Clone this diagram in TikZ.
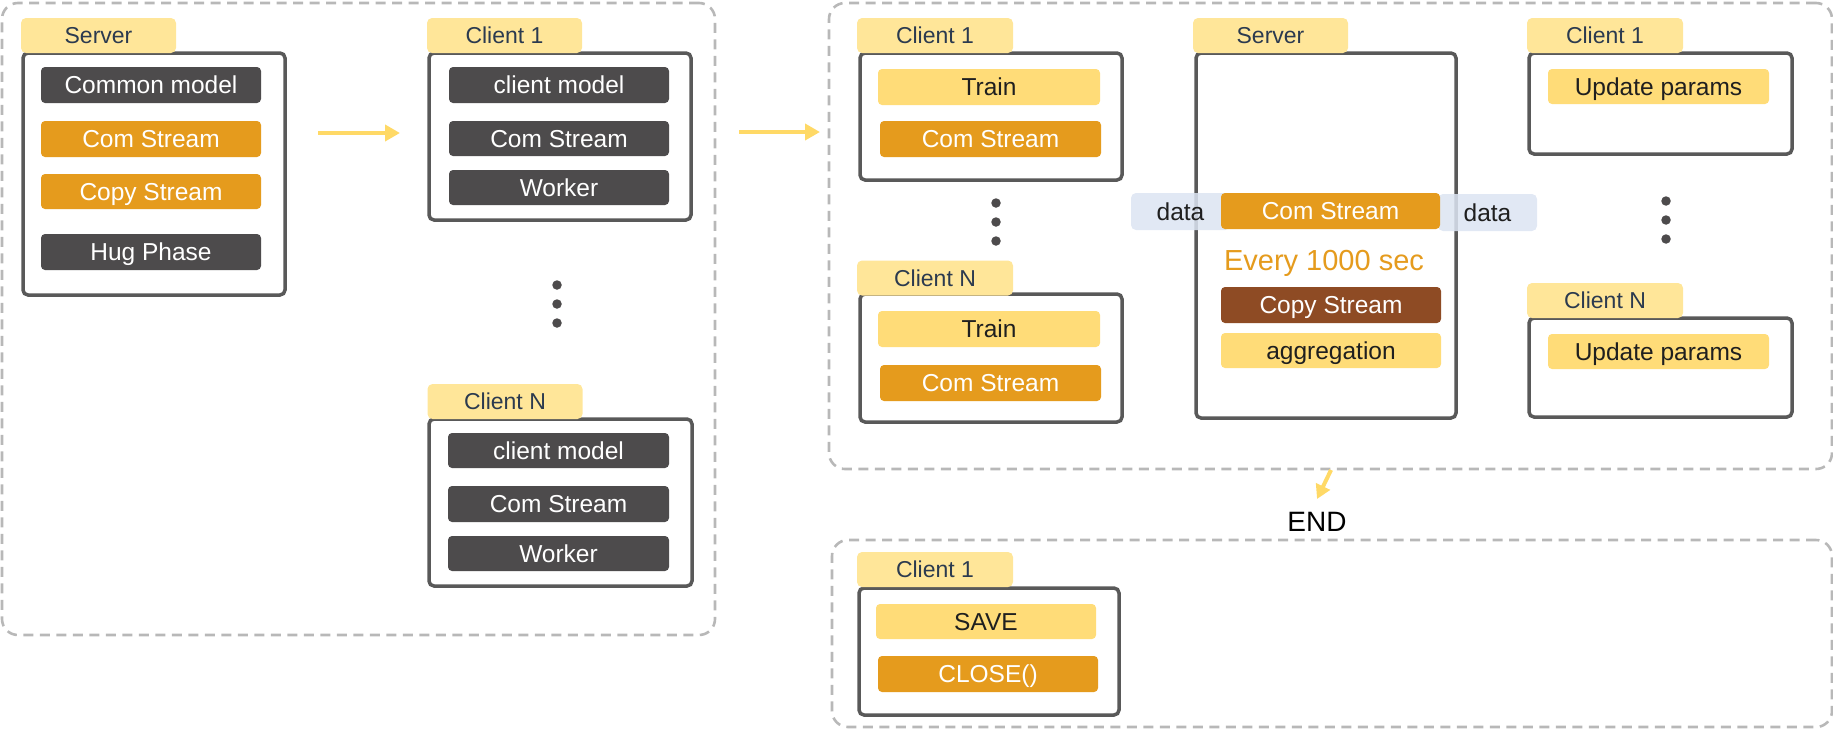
\documentclass[tikz,border=0pt]{standalone}
\usepackage{fontspec}
\setmainfont{Liberation Sans}
\usetikzlibrary{arrows.meta}
\definecolor{tabY}{HTML}{FFE699}
\definecolor{itemY}{HTML}{FFDC78}
\definecolor{orangeC}{HTML}{E59B1D}
\definecolor{darkC}{HTML}{4D4B4C}
\definecolor{brownC}{HTML}{8E4B24}
\definecolor{borderC}{HTML}{595959}
\definecolor{dashC}{HTML}{B8B8B8}
\definecolor{dataC}{HTML}{DCE4F2}
\definecolor{arrowY}{HTML}{FFD966}
\definecolor{tabText}{HTML}{2B3A4F}
\definecolor{inkC}{HTML}{1F1F1F}
\newcommand\myfs[1]{\fontsize{#1}{#1}\selectfont}
\tikzset{
  captext/.style={text height=0.74*#1 pt, text depth=0.04*#1 pt},
  dashbox/.style={draw=dashC, line width=2.6pt, dash pattern=on 10pt off 6.5pt, rounded corners=16pt, inner sep=0pt},
  panel/.style={draw=borderC, line width=3.5pt, rounded corners=5pt, fill=white, inner sep=0pt},
  tabbox/.style={fill=tabY, rounded corners=5pt, text=tabText, font=\myfs{23}, captext=23, minimum width=155pt, minimum height=35pt, inner sep=0pt},
  item/.style={rounded corners=4pt, font=\myfs{24.5}, captext=24.5, minimum width=220pt, minimum height=36pt, inner sep=0pt},
  darkitem/.style={item, fill=darkC, text=white},
  orangeitem/.style={item, fill=orangeC, text=white},
  brownitem/.style={item, fill=brownC, text=white},
  yellowitem/.style={item, fill=itemY, text=inkC},
  databox/.style={fill=dataC, fill opacity=0.85, text opacity=1, text=inkC, rounded corners=5pt, font=\myfs{24.5}, captext=24.5, minimum width=99pt, minimum height=37pt, inner sep=0pt},
  flow/.style={draw=arrowY, line width=4.5pt, -{Triangle[length=15pt,width=16pt]}},
  dotmark/.style={circle, fill=darkC, inner sep=0pt, minimum size=9.5pt}
}
\begin{document}
\begin{tikzpicture}[x=1pt, y=-1pt]
\useasboundingbox (0,0) rectangle (1833,729);

% group containers
\node[dashbox, minimum width=713pt, minimum height=632pt] (g1) at (358.5,319) {};
\node[dashbox, minimum width=1003pt, minimum height=466pt] (g2) at (1330.5,236) {};
\node[dashbox, minimum width=1000pt, minimum height=187pt] (g3) at (1332,633.5) {};

% ---------- stage 1: server ----------
\node[panel, minimum width=262pt, minimum height=242pt] (s1) at (154,174) {};
\node[tabbox] (s1t) at (98.5,35.5) {Server};
\node[darkitem] (s1a) at (151,85) {Common model};
\node[orangeitem] (s1b) at (151,139) {Com Stream};
\node[orangeitem, minimum height=35pt] (s1c) at (151,191.5) {Copy Stream};
\node[darkitem] (s1d) at (151,252) {Hug Phase};

\coordinate (a1s) at (318,133);
\coordinate (a1e) at (400,133);
\draw[flow] (a1s) -- (a1e);

% client 1
\node[panel, minimum width=262pt, minimum height=167pt] (c1) at (560,136.5) {};
\node[tabbox] (c1t) at (504.5,35.5) {Client 1};
\node[darkitem] (c1a) at (559,85) {client model};
\node[darkitem, minimum height=35pt] (c1b) at (559,138.5) {Com Stream};
\node[darkitem, minimum height=35pt] (c1c) at (559,187.5) {Worker};

\node[dotmark] (d1a) at (557,285) {};
\node[dotmark] (d1b) at (557,304) {};
\node[dotmark] (d1c) at (557,323) {};

% client N
\node[panel, minimum width=263pt, minimum height=167pt] (cn) at (560.5,502.5) {};
\node[tabbox] (cnt) at (505,401.5) {Client N};
\node[darkitem, minimum width=221pt, minimum height=35pt] (cna) at (558.5,450.5) {client model};
\node[darkitem, minimum width=221pt] (cnb) at (558.5,504) {Com Stream};
\node[darkitem, minimum width=221pt, minimum height=35pt] (cnc) at (558.5,553.5) {Worker};

\coordinate (a2s) at (739,132);
\coordinate (a2e) at (820,132);
\draw[flow] (a2s) -- (a2e);

% ---------- stage 2 ----------
% client 1
\node[panel, minimum width=262pt, minimum height=127pt] (r1) at (991,116.5) {};
\node[tabbox, minimum width=156pt] (r1t) at (935,35.5) {Client 1};
\node[yellowitem, minimum width=222pt] (r1a) at (989,87) {Train};
\node[orangeitem, minimum width=221pt] (r1b) at (990.5,139) {Com Stream};

\node[dotmark] (d2a) at (996,203) {};
\node[dotmark] (d2b) at (996,222) {};
\node[dotmark] (d2c) at (996,241) {};

% client N
\node[panel, minimum width=262pt, minimum height=128pt] (rn) at (991,358) {};
\node[tabbox, minimum width=156pt] (rnt) at (935,278) {Client N};
\node[yellowitem, minimum width=222pt] (rna) at (989,329) {Train};
\node[orangeitem, minimum width=221pt] (rnb) at (990.5,383) {Com Stream};

% server
\node[panel, minimum width=260pt, minimum height=365pt] (sv) at (1326,235.5) {};
\node[tabbox] (svt) at (1270.5,35.5) {Server};
\node[databox] (dl) at (1180.5,211.5) {data};
\node[databox] (dr) at (1487.5,212.5) {data};
\node[orangeitem, minimum width=219pt] (svb) at (1330.5,211) {Com Stream};
\node[text=orangeC, font=\myfs{29}, captext=29, inner sep=0pt] (every) at (1324,260) {Every 1000 sec};
\node[brownitem] (svc) at (1331,305) {Copy Stream};
\node[yellowitem, minimum height=35pt] (svd) at (1331,350.5) {aggregation};

% right clients
\node[panel, minimum width=263pt, minimum height=101pt] (u1) at (1660.5,103.5) {};
\node[tabbox, minimum width=156pt] (u1t) at (1605,35.5) {Client 1};
\node[yellowitem, minimum width=221pt, minimum height=35pt] (u1a) at (1658.5,86.5) {Update params};

\node[dotmark] (d3a) at (1666,201) {};
\node[dotmark] (d3b) at (1666,220) {};
\node[dotmark] (d3c) at (1666,239) {};

\node[panel, minimum width=263pt, minimum height=99pt] (un) at (1660.5,367.5) {};
\node[tabbox, minimum width=156pt] (unt) at (1605,300.5) {Client N};
\node[yellowitem, minimum width=221pt, minimum height=35pt] (una) at (1658.5,351.5) {Update params};

% END arrow
\coordinate (a3s) at (1331,470);
\coordinate (a3e) at (1317,499);
\draw[flow, line width=4pt, -{Triangle[length=14pt,width=15pt]}] (a3s) -- (a3e);
\node[text=black, font=\myfs{28}, captext=28, inner sep=0pt] (endt) at (1317,522) {END};

% ---------- stage 3 ----------
\node[panel, minimum width=260pt, minimum height=127pt] (b1) at (989,651.5) {};
\node[tabbox, minimum width=156pt] (b1t) at (935,569.5) {Client 1};
\node[yellowitem, minimum height=35pt] (b1a) at (986,621.5) {SAVE};
\node[orangeitem] (b1b) at (988,674) {CLOSE()};
\end{tikzpicture}
\end{document}
